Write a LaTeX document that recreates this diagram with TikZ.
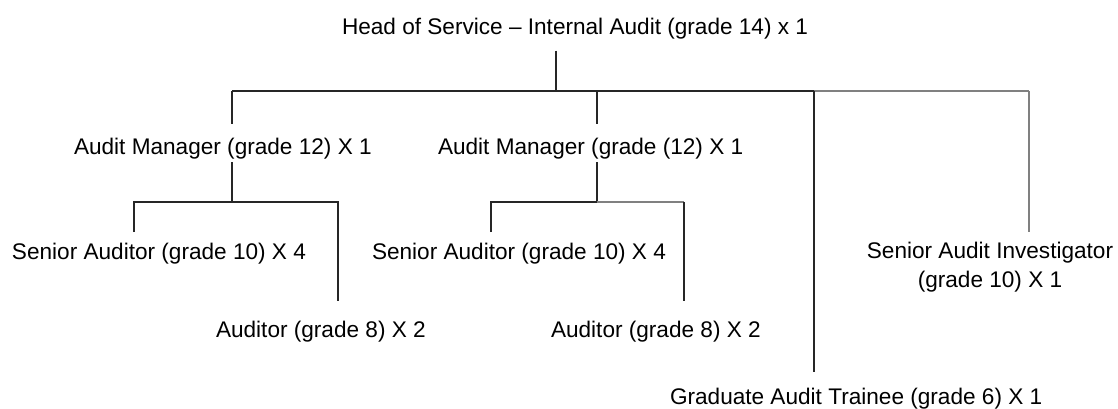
\documentclass[tikz,border=0pt]{standalone}
\usepackage{fontspec}
\setmainfont{Liberation Sans}
\begin{document}
\begin{tikzpicture}[x=1pt,y=-1pt,
  lab/.style={anchor=base west, inner sep=0pt, outer sep=0pt, font=\fontsize{22.6}{29.5}\selectfont},
  ln/.style={draw=black!85, line width=1.2pt},
  lnl/.style={draw=black!50, line width=1.2pt}]
\useasboundingbox (0,0) rectangle (1118,408);
% nodes
\node[lab] (head) at (342,34) {Head of Service – Internal Audit (grade 14) x 1};
\node[lab] (am1) at (74,154) {Audit Manager (grade 12) X 1};
\node[lab] (am2) at (438,154) {Audit Manager (grade (12) X 1};
\node[lab] (sa1) at (12,259) {Senior Auditor (grade 10) X 4};
\node[lab] (au1) at (216,337) {Auditor (grade 8) X 2};
\node[lab] (sa2) at (372,259) {Senior Auditor (grade 10) X 4};
\node[lab] (au2) at (551,337) {Auditor (grade 8) X 2};
\node[lab, anchor=base, align=center] (sai) at (990,287.5) {Senior Audit Investigator\\(grade 10) X 1};
\node[lab] (grad) at (670,404.5) {Graduate Audit Trainee (grade 6) X 1};
% junctions
\coordinate (hj) at (556,91);
\coordinate (b1) at (232,91);
\coordinate (b2) at (597,91);
\coordinate (b3) at (814,91);
\coordinate (b4) at (1029,91);
\coordinate (j1) at (232,202);
\coordinate (l1) at (134,202);
\coordinate (r1) at (338,202);
\coordinate (j2) at (597,202);
\coordinate (l2) at (491,202);
\coordinate (r2) at (684,202);
% connectors
\draw[ln] ([yshift=-12pt]head.south -| hj) -- (hj);
\draw[ln] (b1) -- (b3);
\draw[lnl] (b3) -- (b4);
\draw[ln] (b1) -- ([yshift=13.6pt]am1.north -| b1);
\draw[ln] (b2) -- ([yshift=13.6pt]am2.north -| b2);
\draw[ln] (b3) -- ([yshift=16pt]grad.north -| b3);
\draw[lnl] (b4) -- ([yshift=9.6pt]sai.north -| b4);
\draw[ln] ([yshift=-3.5pt]am1.south -| j1) -- (j1);
\draw[ln] ([yshift=10.6pt]sa1.north -| l1) -- (l1) -- (r1) -- ([yshift=19.6pt]au1.north -| r1);
\draw[ln] ([yshift=-3.5pt]am2.south -| j2) -- (j2);
\draw[ln] ([yshift=10.6pt]sa2.north -| l2) -- (l2) -- (j2);
\draw[lnl] (j2) -- (r2);
\draw[ln] (r2) -- ([yshift=19.6pt]au2.north -| r2);
\end{tikzpicture}
\end{document}
